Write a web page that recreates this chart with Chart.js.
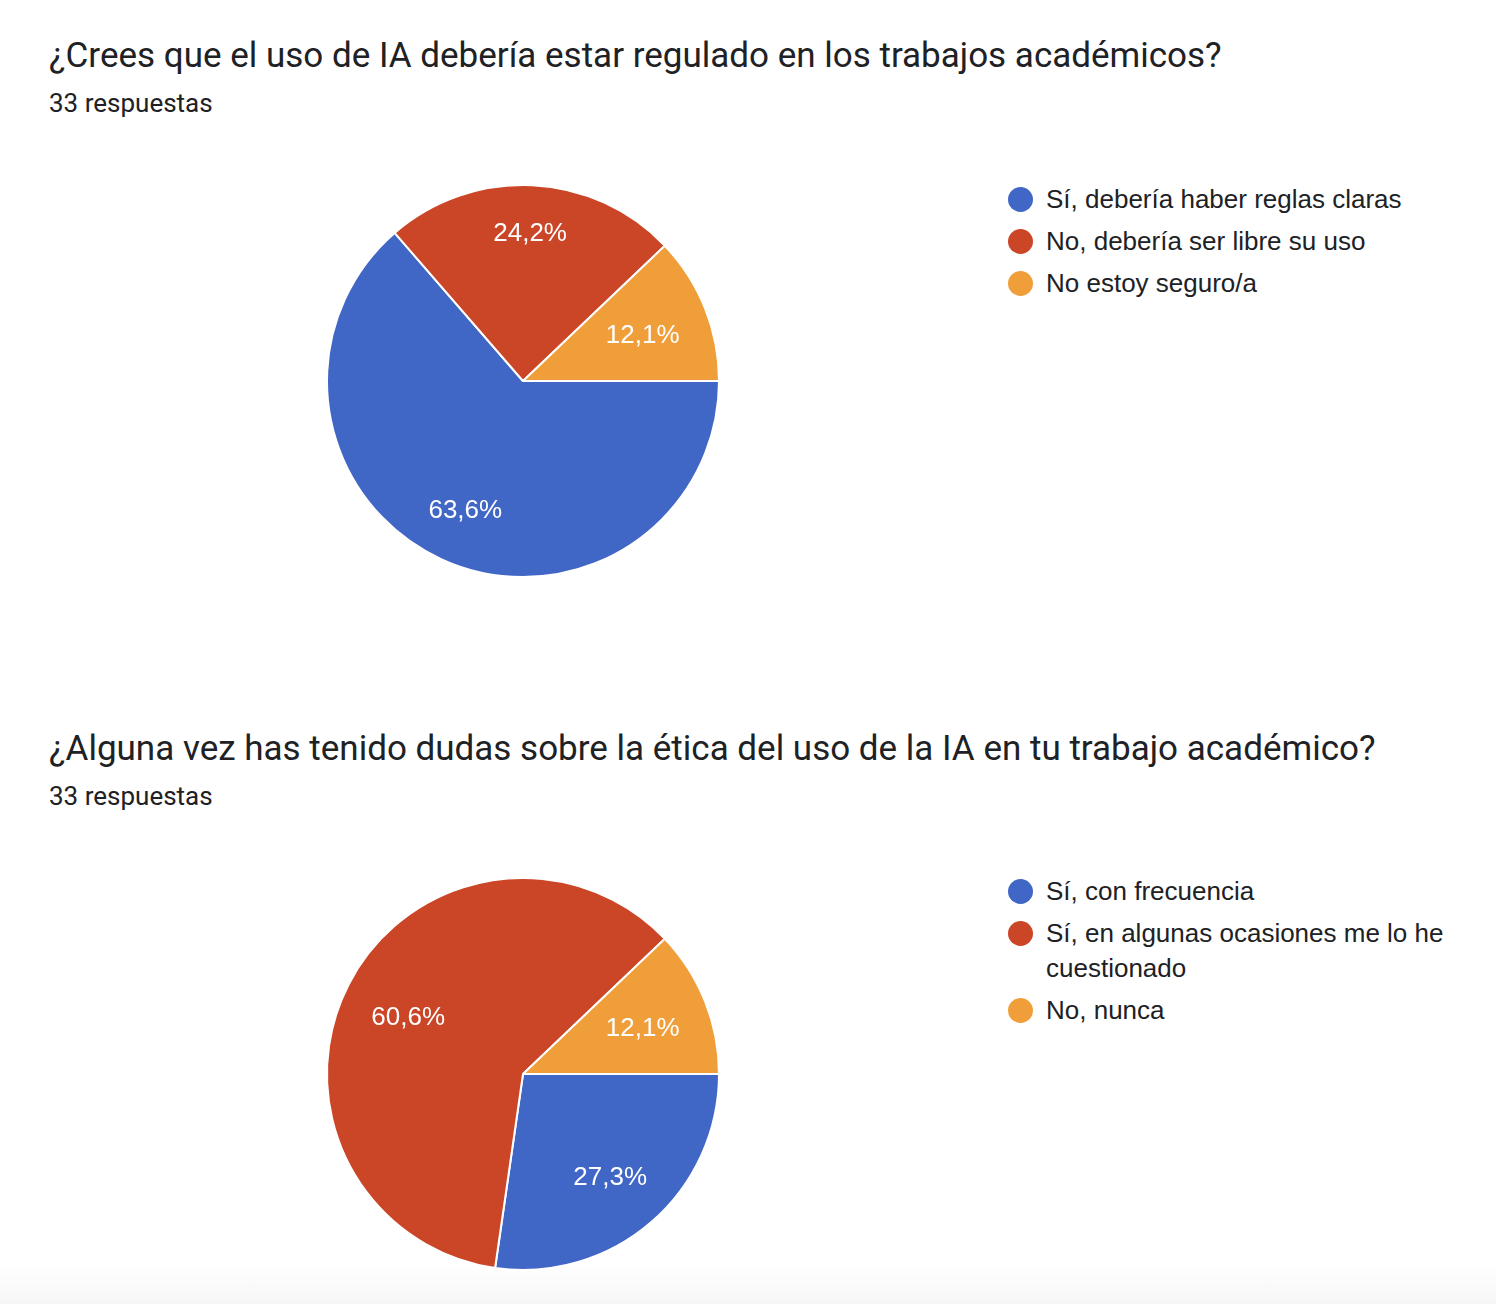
<!DOCTYPE html>
<html>
<head>
<meta charset="utf-8">
<script src="https://cdn.jsdelivr.net/npm/chart.js@4"></script>
<style>
  html, body { margin:0; padding:0; background:#fff; }
  body { width:1496px; height:1304px; position:relative; overflow:hidden; }
  .bottom { position:absolute; left:0; right:0; bottom:0; height:40px;
            background:linear-gradient(#ffffff, #f6f6f6); }
  .title { position:absolute; left:49px; font-family:Roboto, sans-serif; font-size:35px; color:#202124; white-space:nowrap; line-height:1; }
  .sub { position:absolute; left:49px; font-family:Roboto, sans-serif; font-size:26px; color:#202124; white-space:nowrap; line-height:1; }
  .pie { position:absolute; width:420px; height:420px; }
  .legend { position:absolute; left:1008px; width:450px; font-family:"Liberation Sans", Arial, sans-serif; font-size:26px; color:#202124; }
  .item { position:relative; padding-left:38px; line-height:35px; margin-bottom:7px; }
  .dot { position:absolute; left:0; top:5px; width:25px; height:25px; border-radius:50%; }
</style>
</head>
<body>
<div class="bottom"></div>

<div class="title" style="top:38px">¿Crees que el uso de IA debería estar regulado en los trabajos académicos?</div>
<div class="sub" style="top:90px">33 respuestas</div>
<div class="pie" style="left:313px; top:171px"><canvas id="c1"></canvas></div>
<div class="legend" id="l1" style="top:182px"></div>

<div class="title" style="top:731px">¿Alguna vez has tenido dudas sobre la ética del uso de la IA en tu trabajo académico?</div>
<div class="sub" style="top:783px">33 respuestas</div>
<div class="pie" style="left:313px; top:864px"><canvas id="c2"></canvas></div>
<div class="legend" id="l2" style="top:874px"></div>

<script>
const colors = ['#4066c6', '#cb4527', '#f09e3a'];

const categories1 = ['Sí, debería haber reglas claras', 'No, debería ser libre su uso', 'No estoy seguro/a'];
const counts1 = [21, 8, 4];

const categories2 = ['Sí, con frecuencia', 'Sí, en algunas ocasiones me lo he cuestionado', 'No, nunca'];
const counts2 = [9, 20, 4];

const sliceLabels = {
  id: 'sliceLabels',
  afterDatasetsDraw(chart) {
    const ctx = chart.ctx;
    const meta = chart.getDatasetMeta(0);
    const data = chart.data.datasets[0].data;
    const total = data.reduce((a, b) => a + b, 0);
    ctx.save();
    ctx.font = '26px "Liberation Sans", Arial, sans-serif';
    ctx.fillStyle = '#ffffff';
    ctx.textAlign = 'center';
    ctx.textBaseline = 'middle';
    meta.data.forEach((arc, i) => {
      const p = arc.getProps(['x', 'y', 'startAngle', 'endAngle', 'outerRadius'], true);
      const txt = (data[i] / total * 100).toFixed(1).replace('.', ',') + '%';
      const w = ctx.measureText(txt).width / 2;
      const h = 12;
      const mid = (p.startAngle + p.endAngle) / 2;
      const c = Math.cos(mid), s = Math.sin(mid);
      const R = p.outerRadius * 0.855;
      const b = w * Math.abs(c) + h * Math.abs(s);
      const d = -b + Math.sqrt(b * b - (w * w + h * h - R * R));
      ctx.fillText(txt, p.x + c * d, p.y + s * d + 3);
    });
    ctx.restore();
  }
};

function makePie(id, legendId, cats, vals) {
  const chart = new Chart(document.getElementById(id), {
    type: 'pie',
    data: {
      labels: cats,
      datasets: [{ data: vals, backgroundColor: colors, borderColor: '#ffffff', borderWidth: 2 }]
    },
    options: {
      responsive: true,
      maintainAspectRatio: false,
      animation: false,
      rotation: 90,
      radius: 196,
      layout: { padding: 0 },
      plugins: { legend: { display: false }, tooltip: { enabled: false } }
    },
    plugins: [sliceLabels]
  });
  const items = chart.options.plugins.legend.labels.generateLabels(chart);
  const el = document.getElementById(legendId);
  items.forEach(it => {
    const d = document.createElement('div');
    d.className = 'item';
    const dot = document.createElement('span');
    dot.className = 'dot';
    dot.style.background = it.fillStyle;
    d.appendChild(dot);
    d.appendChild(document.createTextNode(it.text));
    el.appendChild(d);
  });
}

makePie('c1', 'l1', categories1, counts1);
makePie('c2', 'l2', categories2, counts2);
</script>
</body>
</html>
